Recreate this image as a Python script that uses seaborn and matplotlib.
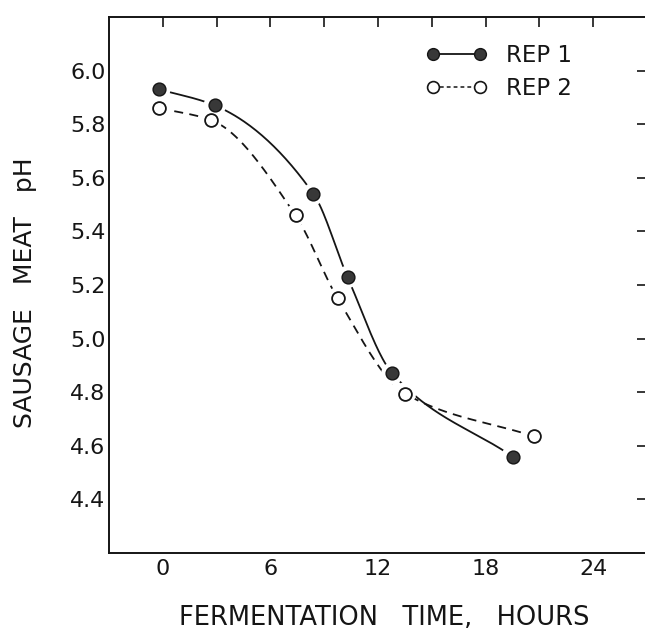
import numpy as np
import matplotlib
matplotlib.use("Agg")
import matplotlib.pyplot as plt
from matplotlib.lines import Line2D
from matplotlib.legend_handler import HandlerLine2D
import seaborn as sns

# values
rep1_hours = [-0.2, 2.9, 8.4, 10.3, 12.8, 19.5]
rep1_ph = [5.93, 5.87, 5.54, 5.23, 4.87, 4.56]
rep2_hours = [-0.2, 2.7, 7.4, 9.75, 13.5, 20.7]
rep2_ph = [5.86, 5.815, 5.46, 5.15, 4.795, 4.635]

x_major = [0, 6, 12, 18, 24]
x_minor = [0, 3, 6, 9, 12, 15, 18, 21, 24]
y_ticks = [4.4, 4.6, 4.8, 5.0, 5.2, 5.4, 5.6, 5.8, 6.0]


def smooth_curve(x, y, num=300):
    # monotone cubic (pchip) through the points, for the hand drawn look
    x = np.asarray(x, float)
    y = np.asarray(y, float)
    h = np.diff(x)
    d = np.diff(y) / h
    m = np.zeros_like(y)
    for k in range(1, len(x) - 1):
        if d[k - 1] * d[k] > 0:
            w1 = 2 * h[k] + h[k - 1]
            w2 = h[k] + 2 * h[k - 1]
            m[k] = (w1 + w2) / (w1 / d[k - 1] + w2 / d[k])
    m[0] = d[0]
    m[-1] = d[-1]
    xs = np.linspace(x[0], x[-1], num)
    idx = np.clip(np.searchsorted(x, xs) - 1, 0, len(x) - 2)
    t = (xs - x[idx]) / h[idx]
    h00 = 2 * t**3 - 3 * t**2 + 1
    h10 = t**3 - 2 * t**2 + t
    h01 = -2 * t**3 + 3 * t**2
    h11 = t**3 - t**2
    ys = h00 * y[idx] + h10 * h[idx] * m[idx] + h01 * y[idx + 1] + h11 * h[idx] * m[idx + 1]
    return xs, ys


sns.set_style("white")
plt.rcParams['font.family'] = ['DejaVu Sans']

fig = plt.figure(figsize=(6.45, 6.3), dpi=100)
# right spine sits just past the edge of the picture, as in the scan
ax = fig.add_axes([109 / 645, 1 - 553 / 630, 538 / 645, 536 / 630])

ink = '#151515'

cx, cy = smooth_curve(rep1_hours, rep1_ph)
sns.lineplot(x=cx, y=cy, ax=ax, color=ink, lw=1.3, sort=False, estimator=None, zorder=2)
cx, cy = smooth_curve(rep2_hours, rep2_ph)
sns.lineplot(x=cx, y=cy, ax=ax, color=ink, lw=1.3, sort=False, estimator=None,
             linestyle=(0, (5, 3.5)), zorder=2)

# white halos leave small gaps between the curves and the points
for hx, hy in [(rep1_hours, rep1_ph), (rep2_hours, rep2_ph)]:
    sns.scatterplot(x=hx, y=hy, ax=ax, s=260, color='white', edgecolor='none', zorder=3)

sns.scatterplot(x=rep1_hours, y=rep1_ph, ax=ax, s=85, color='#383838',
                edgecolor=ink, linewidth=1.0, zorder=4)
sns.scatterplot(x=rep2_hours, y=rep2_ph, ax=ax, s=85, color='white',
                edgecolor=ink, linewidth=1.3, zorder=4)

ax.set_xlim(-3, 27)
ax.set_ylim(4.2, 6.2)
ax.set_xticks(x_major)
ax.set_xticks(x_minor, minor=True)
ax.set_xticklabels([str(v) for v in x_major])
ax.set_yticks(y_ticks)
ax.set_yticklabels([f'{v:.1f}' for v in y_ticks])

ax.tick_params(which='both', direction='in', top=True, right=True,
               length=7, width=1.2, color=ink, labelsize=16, labelcolor=ink)
ax.tick_params(axis='y', pad=2.5)
ax.tick_params(axis='x', pad=4)
for sp in ax.spines.values():
    sp.set_linewidth(1.4)
    sp.set_color(ink)

ax.set_xlabel('FERMENTATION   TIME,   HOURS', fontsize=18.5, color=ink)
ax.set_ylabel('SAUSAGE   MEAT   pH', fontsize=18, color=ink)
ax.xaxis.set_label_coords(0.512, -0.097)
ax.yaxis.set_label_coords(-0.134, 0.485)

handles = [
    Line2D([], [], color=ink, lw=1.3, marker='o', markersize=8.5,
           markerfacecolor='#383838', markeredgecolor=ink),
    Line2D([], [], color=ink, lw=1.1, linestyle=(0, (2.5, 2)), marker='o', markersize=8.5,
           markerfacecolor='white', markeredgecolor=ink, markeredgewidth=1.2),
]
ax.legend(handles, ['REP 1', 'REP 2'], loc='upper left',
          handler_map={Line2D: HandlerLine2D(marker_pad=0, numpoints=2)},
          bbox_to_anchor=(433 / 645, 1 - 44 / 630), bbox_transform=fig.transFigure,
          frameon=False, handlelength=2.05, handletextpad=1.15,
          borderpad=0, borderaxespad=0, labelspacing=0.45, fontsize=16.5,
          labelcolor=ink)

fig.savefig('out.png', dpi=100)
